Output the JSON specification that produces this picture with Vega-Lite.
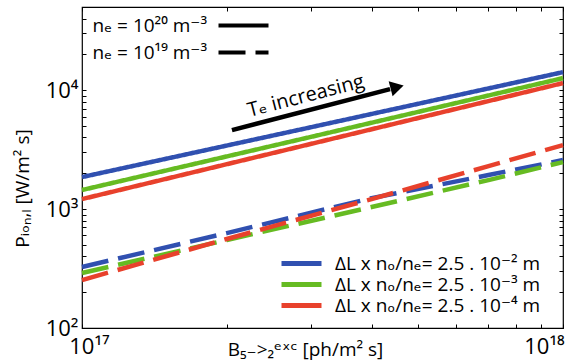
{
  "$schema": "https://vega.github.io/schema/vega-lite/v6.json",
  "width": 481,
  "height": 321,
  "autosize": "none",
  "padding": {"left": 82, "top": 7, "right": 5, "bottom": 35},
  "background": "white",
  "config": {
    "view": {"stroke": "black", "strokeWidth": 1.2},
    "font": "Open Sans, DejaVu Sans",
    "axis": {"domain": false, "grid": false, "tickColor": "black", "labelColor": "black", "titleColor": "black", "titleFontWeight": "normal"}
  },
  "datasets": {
    "curves": [
      {"x": 1e17, "y": 1858, "series": "ΔL x nₒ/nₑ= 2.5 . 10⁻² m", "ne": "nₑ = 10²⁰ m⁻³"},
      {"x": 3e17, "y": 4887, "series": "ΔL x nₒ/nₑ= 2.5 . 10⁻² m", "ne": "nₑ = 10²⁰ m⁻³"},
      {"x": 1e18, "y": 14170, "series": "ΔL x nₒ/nₑ= 2.5 . 10⁻² m", "ne": "nₑ = 10²⁰ m⁻³"},
      {"x": 1e17, "y": 1446, "series": "ΔL x nₒ/nₑ= 2.5 . 10⁻³ m", "ne": "nₑ = 10²⁰ m⁻³"},
      {"x": 3e17, "y": 4055, "series": "ΔL x nₒ/nₑ= 2.5 . 10⁻³ m", "ne": "nₑ = 10²⁰ m⁻³"},
      {"x": 1e18, "y": 12620, "series": "ΔL x nₒ/nₑ= 2.5 . 10⁻³ m", "ne": "nₑ = 10²⁰ m⁻³"},
      {"x": 1e17, "y": 1213, "series": "ΔL x nₒ/nₑ= 2.5 . 10⁻⁴ m", "ne": "nₑ = 10²⁰ m⁻³"},
      {"x": 3e17, "y": 3540, "series": "ΔL x nₒ/nₑ= 2.5 . 10⁻⁴ m", "ne": "nₑ = 10²⁰ m⁻³"},
      {"x": 1e18, "y": 11460, "series": "ΔL x nₒ/nₑ= 2.5 . 10⁻⁴ m", "ne": "nₑ = 10²⁰ m⁻³"},
      {"x": 1e17, "y": 326, "series": "ΔL x nₒ/nₑ= 2.5 . 10⁻² m", "ne": "nₑ = 10¹⁹ m⁻³"},
      {"x": 2e17, "y": 628, "series": "ΔL x nₒ/nₑ= 2.5 . 10⁻² m", "ne": "nₑ = 10¹⁹ m⁻³"},
      {"x": 4e17, "y": 1237, "series": "ΔL x nₒ/nₑ= 2.5 . 10⁻² m", "ne": "nₑ = 10¹⁹ m⁻³"},
      {"x": 7e17, "y": 1932, "series": "ΔL x nₒ/nₑ= 2.5 . 10⁻² m", "ne": "nₑ = 10¹⁹ m⁻³"},
      {"x": 1e18, "y": 2582, "series": "ΔL x nₒ/nₑ= 2.5 . 10⁻² m", "ne": "nₑ = 10¹⁹ m⁻³"},
      {"x": 1e17, "y": 290, "series": "ΔL x nₒ/nₑ= 2.5 . 10⁻³ m", "ne": "nₑ = 10¹⁹ m⁻³"},
      {"x": 2e17, "y": 549, "series": "ΔL x nₒ/nₑ= 2.5 . 10⁻³ m", "ne": "nₑ = 10¹⁹ m⁻³"},
      {"x": 4e17, "y": 1040, "series": "ΔL x nₒ/nₑ= 2.5 . 10⁻³ m", "ne": "nₑ = 10¹⁹ m⁻³"},
      {"x": 7e17, "y": 1753, "series": "ΔL x nₒ/nₑ= 2.5 . 10⁻³ m", "ne": "nₑ = 10¹⁹ m⁻³"},
      {"x": 1e18, "y": 2483, "series": "ΔL x nₒ/nₑ= 2.5 . 10⁻³ m", "ne": "nₑ = 10¹⁹ m⁻³"},
      {"x": 1e17, "y": 253, "series": "ΔL x nₒ/nₑ= 2.5 . 10⁻⁴ m", "ne": "nₑ = 10¹⁹ m⁻³"},
      {"x": 2e17, "y": 560, "series": "ΔL x nₒ/nₑ= 2.5 . 10⁻⁴ m", "ne": "nₑ = 10¹⁹ m⁻³"},
      {"x": 4e17, "y": 1213, "series": "ΔL x nₒ/nₑ= 2.5 . 10⁻⁴ m", "ne": "nₑ = 10¹⁹ m⁻³"},
      {"x": 7e17, "y": 2297, "series": "ΔL x nₒ/nₑ= 2.5 . 10⁻⁴ m", "ne": "nₑ = 10¹⁹ m⁻³"},
      {"x": 1e18, "y": 3451, "series": "ΔL x nₒ/nₑ= 2.5 . 10⁻⁴ m", "ne": "nₑ = 10¹⁹ m⁻³"}
    ],
    "arrow": [{"x": 2.05e17, "y": 4613, "x2": 4.37e17, "y2": 10210}],
    "head": [{"x": 4.52e17, "y": 10590}],
    "note": [{"x": 2.92e17, "y": 8910, "text": "Tₑ increasing"}]
  },
  "layer": [
    {
      "data": {"name": "curves"},
      "mark": {"type": "line", "strokeWidth": 4.5, "strokeCap": "butt"},
      "encoding": {
        "x": {
          "field": "x", "type": "quantitative",
          "scale": {"type": "log", "domain": [1e17, 1e18], "nice": false},
          "axis": {
            "orient": "bottom",
            "values": [1e17, 2e17, 3e17, 4e17, 5e17, 6e17, 7e17, 8e17, 9e17, 1e18],
            "tickSize": -4, "labelPadding": 12, "labelFontSize": 22,
            "labelExpr": "datum.value < 1.5e17 ? '10¹⁷' : datum.value > 9.5e17 ? '10¹⁸' : ''",
            "labelOverlap": false, "labelFlush": false, "labelBound": false,
            "labelOffset": {"condition": {"test": "datum.value > 5e17", "value": -19}, "value": 7},
            "title": "B₅₋>₂ᵉˣᶜ [ph/m² s]", "titleFontSize": 19,
            "titleX": 223, "titleY": 27, "titleBaseline": "alphabetic", "titleAlign": "center"
          }
        },
        "y": {
          "field": "y", "type": "quantitative",
          "scale": {"type": "log", "domain": [100, 50000], "nice": false},
          "axis": {
            "orient": "left",
            "values": [100, 200, 300, 400, 500, 600, 700, 800, 900, 1000, 2000, 3000, 4000, 5000, 6000, 7000, 8000, 9000, 10000, 20000, 30000, 40000, 50000],
            "tickSize": -4, "labelPadding": 8, "labelFontSize": 22,
            "labelExpr": "datum.value < 150 ? '10²' : (datum.value > 950 && datum.value < 1050) ? '10³' : (datum.value > 9500 && datum.value < 10500) ? '10⁴' : ''",
            "labelOverlap": false, "labelBound": false, "labelFlush": false,
            "title": "Pᵢₒₙ,ₗ [W/m² s]", "titleFontSize": 19,
            "titleX": -60, "titleY": 181, "titleAngle": -90, "titleBaseline": "middle", "titleAlign": "center"
          }
        },
        "color": {
          "field": "series", "type": "nominal",
          "scale": {"domain": ["ΔL x nₒ/nₑ= 2.5 . 10⁻² m", "ΔL x nₒ/nₑ= 2.5 . 10⁻³ m", "ΔL x nₒ/nₑ= 2.5 . 10⁻⁴ m"], "range": ["#3050b0", "#66bb22", "#e8412c"]},
          "legend": {
            "orient": "none", "legendX": 197, "legendY": 247, "title": null,
            "symbolType": "M-1,0H4.714", "symbolSize": 196, "symbolStrokeWidth": 5,
            "labelFontSize": 19, "labelColor": "black", "labelOffset": 37, "labelLimit": 400,
            "rowPadding": 0, "padding": 0
          }
        },
        "strokeDash": {
          "field": "ne", "type": "nominal",
          "scale": {"domain": ["nₑ = 10²⁰ m⁻³", "nₑ = 10¹⁹ m⁻³"], "range": [[1, 0], [27, 10]]},
          "legend": {
            "orient": "none", "legendX": 134, "legendY": 9, "title": null,
            "symbolType": "M-1,0H6.143", "symbolSize": 196, "symbolStrokeWidth": 4, "symbolStrokeColor": "black",
            "labelFontSize": 19, "labelColor": "black", "labelAlign": "right", "labelOffset": -28, "labelLimit": 400,
            "rowPadding": 7, "padding": 0,
            "encode": {"symbols": {"update": {"strokeDash": {"signal": "datum.value === 'nₑ = 10¹⁹ m⁻³' ? [23, 4] : [1, 0]"}}}}
          }
        },
        "order": {"field": "x", "type": "quantitative"}
      }
    },
    {
      "data": {"name": "arrow"},
      "mark": {"type": "rule", "strokeWidth": 4.5, "color": "black"},
      "encoding": {
        "x": {
          "field": "x", "type": "quantitative",
          "scale": {"type": "log", "domain": [1e17, 1e18], "nice": false},
          "axis": {"orient": "top", "values": [1e17, 2e17, 3e17, 4e17, 5e17, 6e17, 7e17, 8e17, 9e17, 1e18], "labels": false, "title": null, "tickSize": -4}
        },
        "y": {
          "field": "y", "type": "quantitative",
          "scale": {"type": "log", "domain": [100, 50000], "nice": false},
          "axis": {"orient": "right", "values": [100, 200, 300, 400, 500, 600, 700, 800, 900, 1000, 2000, 3000, 4000, 5000, 6000, 7000, 8000, 9000, 10000, 20000, 30000, 40000, 50000], "labels": false, "title": null, "tickSize": -4}
        },
        "x2": {"field": "x2"},
        "y2": {"field": "y2"}
      }
    },
    {
      "data": {"name": "head"},
      "mark": {"type": "point", "shape": "triangle-right", "filled": true, "color": "black", "opacity": 1, "size": 240, "angle": -14.6},
      "encoding": {
        "x": {"field": "x", "type": "quantitative", "axis": null},
        "y": {"field": "y", "type": "quantitative", "axis": null}
      }
    },
    {
      "data": {"name": "note"},
      "mark": {"type": "text", "angle": -14.5, "fontSize": 20, "align": "center", "baseline": "middle", "color": "black"},
      "encoding": {
        "x": {"field": "x", "type": "quantitative", "axis": null},
        "y": {"field": "y", "type": "quantitative", "axis": null},
        "text": {"field": "text"}
      }
    }
  ],
  "resolve": {"axis": {"x": "independent", "y": "independent"}}
}
